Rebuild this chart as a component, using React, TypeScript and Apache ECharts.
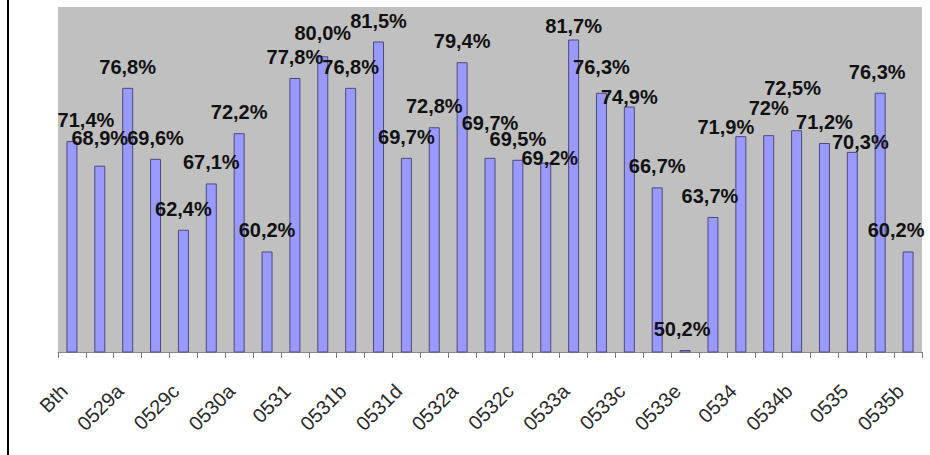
import React, { useEffect, useRef } from "react";
import * as echarts from "echarts";

const categories = [
  "Bth", "0529", "0529a", "0529b", "0529c", "0530", "0530a", "0530b",
  "0531", "0531a", "0531b", "0531c", "0531d", "0532", "0532a", "0532b",
  "0532c", "0533", "0533a", "0533b", "0533c", "0533d", "0533e", "0533f",
  "0534", "0534a", "0534b", "0534c", "0535", "0535a", "0535b",
];

const values = [
  71.4, 68.9, 76.8, 69.6, 62.4, 67.1, 72.2, 60.2,
  77.8, 80.0, 76.8, 81.5, 69.7, 72.8, 79.4, 69.7,
  69.5, 69.2, 81.7, 76.3, 74.9, 66.7, 50.2, 63.7,
  71.9, 72.0, 72.5, 71.2, 70.3, 76.3, 60.2,
];

const valueLabels = [
  "71,4%", "68,9%", "76,8%", "69,6%", "62,4%", "67,1%", "72,2%", "60,2%",
  "77,8%", "80,0%", "76,8%", "81,5%", "69,7%", "72,8%", "79,4%", "69,7%",
  "69,5%", "69,2%", "81,7%", "76,3%", "74,9%", "66,7%", "50,2%", "63,7%",
  "71,9%", "72%", "72,5%", "71,2%", "70,3%", "76,3%", "60,2%",
];

// label nudges (dx, dy) in pixels, as laid out in the original chart
const labelNudges: [number, number][] = [
  [14, 0], [0, -7], [0, 0], [0, 0], [0, 0], [0, 0], [0, 0], [0, 0],
  [0, 0], [0, -2], [0, 0], [0, 0], [0, 0], [0, 0], [0, 0], [0, -14],
  [0, 0], [4, 16], [0, 7], [0, -5], [0, 11], [0, 0], [-3, 0], [-3, 0],
  [-15, 12], [0, -6], [-4, -21], [0, 0], [8, 11], [-3, 0], [-12, 0],
];

export default function App() {
  const ref = useRef<HTMLDivElement>(null);
  useEffect(() => {
    if (!ref.current) return;
    const chart = echarts.init(ref.current, null, { renderer: "svg" });
    chart.setOption({
      animation: false,
      backgroundColor: "#ffffff",
      grid: {
        left: 58,
        right: 8,
        top: 7,
        bottom: 103,
        show: true,
        backgroundColor: "#c0c0c0",
        borderWidth: 0,
      },
      xAxis: {
        type: "category",
        data: categories,
        boundaryGap: true,
        axisLine: { show: true, lineStyle: { color: "#8a8a8a", width: 1 } },
        axisTick: {
          show: true,
          interval: 0,
          length: 6,
          lineStyle: { color: "#7a7a7a" },
        },
        axisLabel: {
          interval: 1,
          rotate: 45,
          margin: 28,
          padding: [0, 11, 0, 0],
          fontSize: 20,
          fontFamily: "Liberation Sans, Arial, sans-serif",
          color: "#2a2a2a",
        },
        splitLine: { show: false },
      },
      yAxis: {
        type: "value",
        min: 50,
        max: 85,
        show: false,
        splitLine: { show: false },
      },
      series: [
        {
          type: "bar",
          barWidth: 11,
          itemStyle: {
            color: "#9999ff",
            borderColor: "#4b4b7a",
            borderWidth: 1,
          },
          label: {
            show: true,
            position: "top",
            distance: 11,
            fontSize: 20,
            fontWeight: "bold",
            fontFamily: "Liberation Sans, Arial, sans-serif",
            color: "#111111",
            formatter: (p: any) => valueLabels[p.dataIndex],
          },
          data: values.map((v, i) => ({
            value: v,
            label: { offset: labelNudges[i] },
          })),
        },
      ],
      graphic: [
        {
          type: "rect",
          left: 7,
          top: 0,
          shape: { width: 2, height: 455 },
          style: { fill: "#000000" },
        },
      ],
    });
    return () => chart.dispose();
  }, []);
  return (
    <div
      ref={ref}
      style={{ position: "absolute", left: 0, top: 0, width: 930, height: 455 }}
    />
  );
}
